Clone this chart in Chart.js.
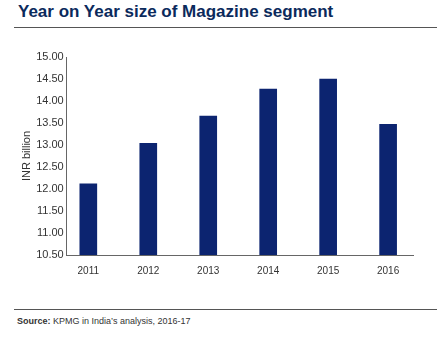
<!DOCTYPE html>
<html>
<head>
<meta charset="utf-8">
<script src="https://cdn.jsdelivr.net/npm/chart.js@4"></script>
<style>
  body { margin: 0; background: #fff; }
  #wrap { position: relative; width: 446px; height: 338px; overflow: hidden; }
  #title { position: absolute; left: 18px; top: 2px; font: bold 17px "Liberation Sans", Arial, sans-serif; color: #0b2a5c; white-space: nowrap; }
  .rule { position: absolute; left: 14px; width: 423px; height: 1px; background: #555; }
  #source { position: absolute; left: 17px; top: 316px; font: 9px "Liberation Sans", Arial, sans-serif; color: #333; white-space: nowrap; }
  #chartBox { position: absolute; left: 0; top: 35px; width: 446px; height: 252px; }
</style>
</head>
<body>
<div id="wrap">
  <div id="title">Year on Year size of Magazine segment</div>
  <div class="rule" style="top:27px"></div>
  <div id="chartBox"><canvas id="magChart"></canvas></div>
  <div class="rule" style="top:309px"></div>
  <div id="source"><b>Source:</b> KPMG in India’s analysis, 2016-17</div>
</div>
<script>
var years = [2011, 2012, 2013, 2014, 2015, 2016];
var sizes = [12.12, 13.04, 13.66, 14.27, 14.50, 13.47];
var yTicks = [10.5, 11, 11.5, 12, 12.5, 13, 13.5, 14, 14.5, 15];

var points = years.map(function (yr, i) { return { x: yr, y: sizes[i] }; });

var ctx = document.getElementById('magChart').getContext('2d');
var myChart = new Chart(ctx, {
    type: 'bar',
    data: {
        datasets: [{
            label: 'INR billion',
            data: points,
            backgroundColor: '#0c2470',
            barThickness: 17
        }]
    },
    options: {
        responsive: true,
        maintainAspectRatio: false,
        animation: false,
        layout: { padding: { left: 12, right: 33, top: 22, bottom: 0 } },
        plugins: { legend: { display: false }, tooltip: { enabled: false } },
        scales: {
            x: {
                type: 'linear',
                offset: false,
                min: 2010.64,
                max: 2016.415,
                grid: { display: true, offset: false, drawOnChartArea: false, drawTicks: false },
                border: { display: true, color: '#666', width: 1 },
                afterBuildTicks: function (axis) {
                    axis.ticks = years.map(function (v) { return { value: v }; });
                },
                ticks: {
                    color: '#333',
                    font: { family: 'Liberation Sans', size: 10 },
                    padding: 10,
                    maxRotation: 0,
                    callback: function (v) { return String(v); }
                }
            },
            y: {
                min: yTicks[0],
                max: yTicks[yTicks.length - 1],
                grid: { display: true, drawOnChartArea: false, drawTicks: false },
                border: { display: true, color: '#666', width: 1 },
                afterBuildTicks: function (axis) {
                    axis.ticks = yTicks.map(function (v) { return { value: v }; });
                },
                ticks: {
                    color: '#333',
                    font: { family: 'Liberation Sans', size: 11 },
                    padding: 3,
                    callback: function (v) { return v.toFixed(2); }
                },
                title: {
                    display: true,
                    text: 'INR billion',
                    color: '#333',
                    font: { family: 'Liberation Sans', size: 11 },
                    padding: { top: 8, bottom: 0 }
                }
            }
        }
    }
});
</script>
</body>
</html>
